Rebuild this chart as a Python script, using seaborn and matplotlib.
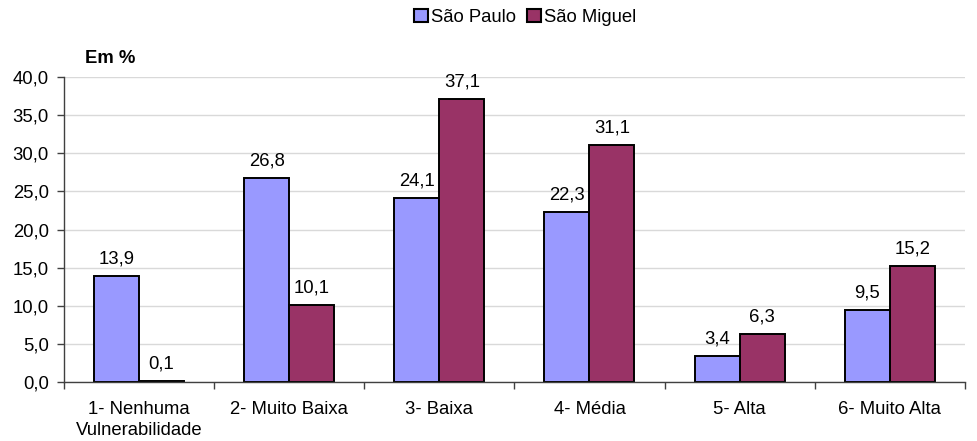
import numpy as np
import pandas as pd
import matplotlib
matplotlib.use('Agg')
import matplotlib.pyplot as plt
from matplotlib.ticker import FixedLocator, FuncFormatter
import seaborn as sns

categories = ['1- Nenhuma\nVulnerabilidade', '2- Muito Baixa', '3- Baixa',
              '4- Média', '5- Alta', '6- Muito Alta']
sao_paulo = [13.9, 26.8, 24.1, 22.3, 3.4, 9.5]
sao_miguel = [0.1, 10.1, 37.1, 31.1, 6.3, 15.2]
series_names = ['São Paulo', 'São Miguel']
colors = ['#9999FF', '#993366']

df = pd.DataFrame({
    'categoria': categories * 2,
    'valor': sao_paulo + sao_miguel,
    'serie': [series_names[0]] * len(categories) + [series_names[1]] * len(categories),
})

sns.set_style('white')
plt.rcParams['font.family'] = ['Liberation Sans', 'DejaVu Sans']
plt.rcParams['text.color'] = 'black'
plt.rcParams['xtick.color'] = 'black'
plt.rcParams['ytick.color'] = 'black'
FS = 13.3

fig = plt.figure(figsize=(9.77, 4.41), dpi=100)
ax = fig.add_axes([0.0655, 0.134, 0.922, 0.691])

sns.barplot(data=df, x='categoria', y='valor', hue='serie', order=categories,
            hue_order=series_names, palette=colors, width=0.6, saturation=1,
            edgecolor='black', linewidth=1.4, ax=ax, legend=True)

ax.set_ylim(0, 40)
ax.set_xlim(-0.5, len(categories) - 0.5)
ax.set_yticks(np.arange(0, 40.1, 5))
ax.yaxis.set_major_formatter(FuncFormatter(lambda v, p: f'{v:.1f}'.replace('.', ',')))
ax.grid(axis='y', color='#d9d9d9', linewidth=1)
ax.set_axisbelow(True)
ax.set_xlabel('')
ax.set_ylabel('')

for side in ['top', 'right']:
    ax.spines[side].set_visible(False)
for side in ['left', 'bottom']:
    ax.spines[side].set_color('#404040')
    ax.spines[side].set_linewidth(1)

ax.tick_params(axis='y', which='major', length=5, width=1, color='#404040',
               labelcolor='black', labelsize=FS, pad=6, left=True)
ax.tick_params(axis='x', which='major', length=0, labelsize=FS, pad=14,
               labelcolor='black')
ax.xaxis.set_minor_locator(FixedLocator(np.arange(-0.5, len(categories), 1)))
ax.tick_params(axis='x', which='minor', length=5, width=1, color='#404040', bottom=True)
for lbl in ax.get_xticklabels():
    lbl.set_linespacing(1.3)

for cont in ax.containers:
    ax.bar_label(cont, labels=[f'{v:.1f}'.replace('.', ',') for v in cont.datavalues],
                 padding=6, fontsize=FS, color='black')

ax.text(0.023, 1.062, 'Em %', transform=ax.transAxes, fontsize=FS,
        fontweight='bold', ha='left', va='center', color='black')

handles, labels = ax.get_legend_handles_labels()
leg = ax.legend(handles, labels, loc='center', bbox_to_anchor=(0.512, 1.197),
                ncol=2, frameon=False, fontsize=FS, handlelength=0.75, handleheight=0.75,
                handletextpad=0.15, columnspacing=0.6, borderaxespad=0, borderpad=0)
for h in leg.legend_handles:
    h.set_edgecolor('black')
    h.set_linewidth(1.5)
for t in leg.get_texts():
    t.set_color('black')

fig.savefig('out.png', dpi=100)
